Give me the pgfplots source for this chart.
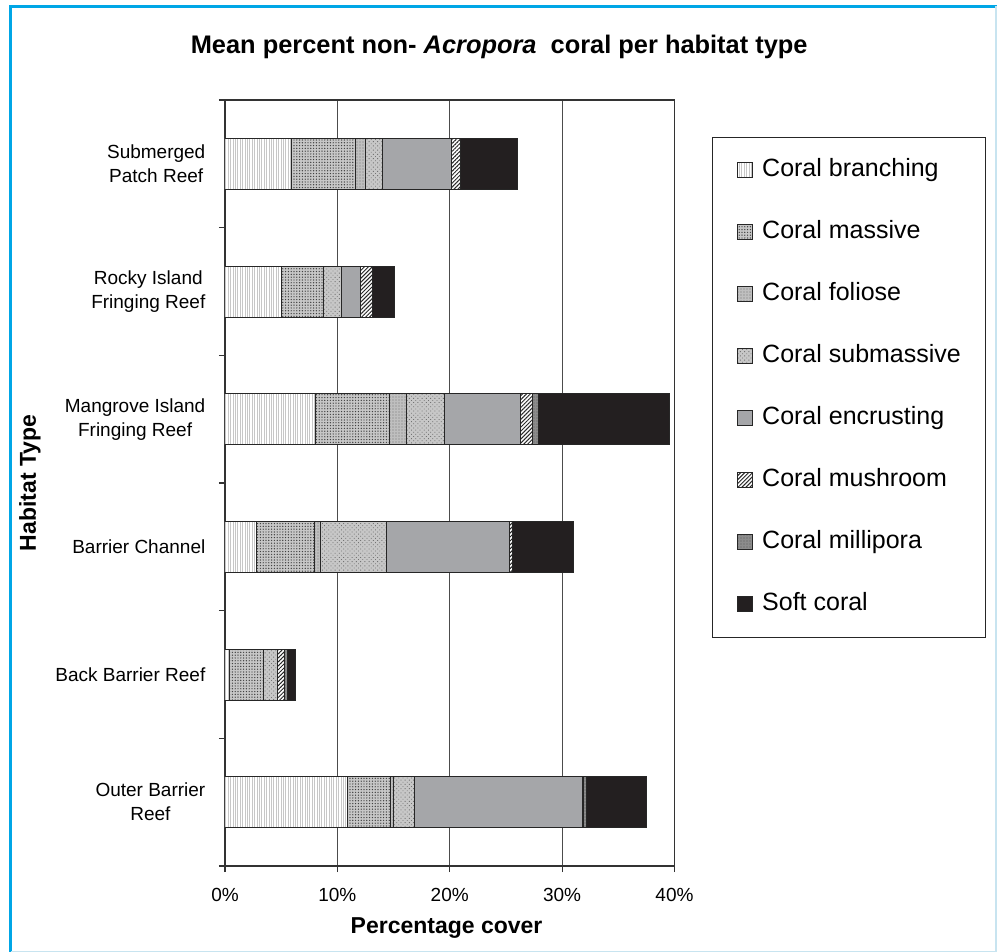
\documentclass[border=0pt]{standalone}
\usepackage{fontspec}
\setmainfont{Liberation Sans}
\usepackage{pgfplots}
\pgfplotsset{compat=1.18}
\usetikzlibrary{patterns.meta}
\definecolor{framecyan}{RGB}{0,166,230}
\definecolor{framelight}{RGB}{200,228,240}
\definecolor{encrust}{RGB}{165,166,169}
\definecolor{softc}{RGB}{35,31,32}
\pgfplotsset{
  seg/.style={draw=black!85, line width=0.5pt,
    legend image code/.code={\draw[##1] (0pt,-3.75pt) rectangle (7.5pt,3.75pt);}},
}
\begin{document}
\begin{tikzpicture}
\useasboundingbox (0,0) rectangle (498.5pt,-476pt);
\fill[white] (0,0) rectangle (498.5pt,-476pt);
\draw[framecyan, line width=1.5pt] (5.25pt,-476pt) -- (5.25pt,-3.1pt) -- (498.5pt,-3.1pt);
\draw[framelight, line width=0.6pt] (498pt,-3.1pt) -- (498pt,-475.6pt) -- (5.25pt,-475.6pt);
\begin{axis}[
  at={(112.5pt,-433pt)}, anchor=south west,
  scale only axis, width=224.75pt, height=383pt,
  xbar stacked, bar width=25.5pt,
  xmin=0, xmax=40, ymin=-0.5, ymax=5.5,
  xtick={0,10,20,30,40},
  xticklabels={0\%,10\%,20\%,30\%,40\%},
  xmajorgrids, major grid style={black!70, line width=0.6pt},
  ytick={-0.5,0.5,...,5.5}, yticklabels={},
  extra y ticks={0,1,2,3,4,5},
  extra y tick labels={{Outer Barrier\\Reef},{Back Barrier Reef},{Barrier Channel},{Mangrove Island\\Fringing Reef},{Rocky Island\\Fringing Reef},{Submerged\\Patch Reef}},
  extra y tick style={tick style={draw=none}},
  yticklabel style={align=center, font=\fontsize{9.5}{12}\selectfont, xshift=-3.3pt},
  xticklabel style={font=\fontsize{9.5}{12}\selectfont, yshift=-4.8pt},
  /pgf/number format/assume math mode=true,
  tick align=outside, major tick length=3pt,
  xtick pos=bottom, ytick pos=left,
  axis line style={black!80, line width=0.6pt},
  tick style={black!80, line width=0.6pt},
  xlabel={Percentage cover},
  xlabel style={at={(axis description cs:0.493,-0.081)}, anchor=center, font=\bfseries\fontsize{11.5}{14}\selectfont},
  ylabel={Habitat Type},
  ylabel style={at={(axis description cs:-0.434,0.5)}, anchor=center, rotate=0, font=\bfseries\fontsize{11.5}{14}\selectfont},
  title={Mean percent non- \textit{Acropora}\ \ coral per habitat type},
  title style={at={(axis description cs:0.61,1.072)}, anchor=center, yshift=-7pt, font=\bfseries\fontsize{12.7}{15}\selectfont},
  legend style={at={(axis description cs:1.0828,0.952)}, anchor=north west,
    draw=black!85, line width=0.5pt, inner xsep=12.5pt, inner ysep=10.75pt,
    row sep=19.5pt, column sep=4.5pt,
    font=\fontsize{12.5}{15}\selectfont,
    nodes={inner sep=0pt, text height=9pt, text depth=2.5pt}},
  legend cell align=left,
]
% order: Outer(0), Back(1), Channel(2), Mangrove(3), Rocky(4), Submerged(5)
\addplot[seg, fill=white, postaction={pattern={Lines[angle=90,distance=1.2pt,line width=0.2pt]}, pattern color=black!22}]
  coordinates {(10.93,0) (0.36,1) (2.81,2) (8.09,3) (5.04,4) (5.96,5)};
\addplot[seg, fill=black!22, postaction={pattern={Dots[distance=1.4pt,radius=0.35pt]}, pattern color=black!75}]
  coordinates {(3.77,0) (3.11,1) (5.13,2) (6.52,3) (3.76,4) (5.69,5)};
\addplot[seg, fill=black!25, postaction={pattern={Dots[distance=1.5pt,radius=0.3pt]}, pattern color=black!55}]
  coordinates {(0.30,0) (0.00,1) (0.59,2) (1.57,3) (0.00,4) (0.86,5)};
\addplot[seg, fill=black!22, postaction={pattern={Dots[distance=1.5pt,radius=0.3pt,angle=45]}, pattern color=black!55}]
  coordinates {(1.90,0) (1.21,1) (5.84,2) (3.38,3) (1.60,4) (1.54,5)};
\addplot[seg, fill=encrust]
  coordinates {(14.93,0) (0.00,1) (10.93,2) (6.78,3) (1.63,4) (6.13,5)};
\addplot[seg, fill=white, postaction={pattern={Lines[angle=45,distance=1.4pt,line width=0.5pt]}, pattern color=black!85}]
  coordinates {(0.10,0) (0.62,1) (0.30,2) (1.04,3) (1.10,4) (0.74,5)};
\addplot[seg, fill=black!45, postaction={pattern={Dots[distance=1.5pt,radius=0.3pt]}, pattern color=black!65}]
  coordinates {(0.20,0) (0.24,1) (0.00,2) (0.50,3) (0.00,4) (0.00,5)};
\addplot[seg, fill=softc]
  coordinates {(5.42,0) (0.77,1) (5.45,2) (11.65,3) (1.95,4) (5.12,5)};
\legend{Coral branching, Coral massive, Coral foliose, Coral submassive, Coral encrusting, Coral mushroom, Coral millipora, Soft coral}
\end{axis}
\end{tikzpicture}
\end{document}
